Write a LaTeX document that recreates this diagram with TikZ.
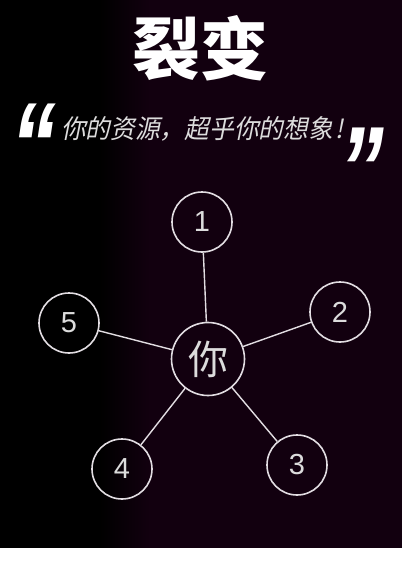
\documentclass[tikz,border=0pt]{standalone}
\usepackage{fontspec}
\newfontfamily\cjk{Noto Sans CJK SC}
\newfontfamily\cjkit[FakeSlant=0.2,FakeStretch=0.95]{Noto Sans CJK SC}
\newfontfamily\qfont[FakeSlant=0.15,FakeStretch=0.75]{Liberation Sans}
\newfontfamily\numfont{Liberation Sans}
\definecolor{bgpurple}{HTML}{12000F}
\definecolor{linegray}{HTML}{E2DDE2}
\definecolor{txtgray}{HTML}{DCDCDC}
\tikzset{
  small/.style={circle,draw=linegray,line width=1.6pt,minimum size=60pt,inner sep=0pt,text=txtgray,font=\numfont\fontsize{29}{29}\selectfont},
  hub/.style={circle,draw=linegray,line width=1.6pt,minimum size=73pt,inner sep=0pt,text=txtgray,font=\cjk\fontsize{40}{40}\selectfont},
  link/.style={draw=linegray,line width=1.4pt},
  qmark/.style={text=white,font=\qfont\bfseries\fontsize{120}{120}\selectfont,inner sep=0pt,anchor=base}
}
\begin{document}
\begin{tikzpicture}[x=1pt,y=-1pt]
\useasboundingbox (0,0) rectangle (402,571);
\fill[black] (0,0) rectangle (100,548);
\shade[left color=black,right color=bgpurple] (99.5,0) rectangle (150,548);
\fill[bgpurple] (149.5,0) rectangle (402,548);
\node[text=white,font=\cjk\bfseries\fontsize{68}{68}\selectfont] (title) at (200,48) {裂变};
\node[text=txtgray,font=\cjkit\fontsize{26}{26}\selectfont,inner sep=0pt,anchor=west] (quote) at (61,129) {你的资源，超乎你的想象\kern3pt!};
\node[qmark] (lq) at (28,186) {“};
\node[qmark] (rq) at (356,210) {”};
\node[hub] (c) at (208,359) {你};
\node[small] (n1) at (202,222) {1};
\node[small] (n2) at (340,312) {2};
\node[small] (n3) at (297,465) {3};
\node[small] (n4) at (122,469) {4};
\node[small] (n5) at (69,323) {5};
\foreach \n in {n1,n2,n3,n4,n5} \draw[link] (c) -- (\n);
\fill[white] (0,548) rectangle (402,571);
\end{tikzpicture}
\end{document}
